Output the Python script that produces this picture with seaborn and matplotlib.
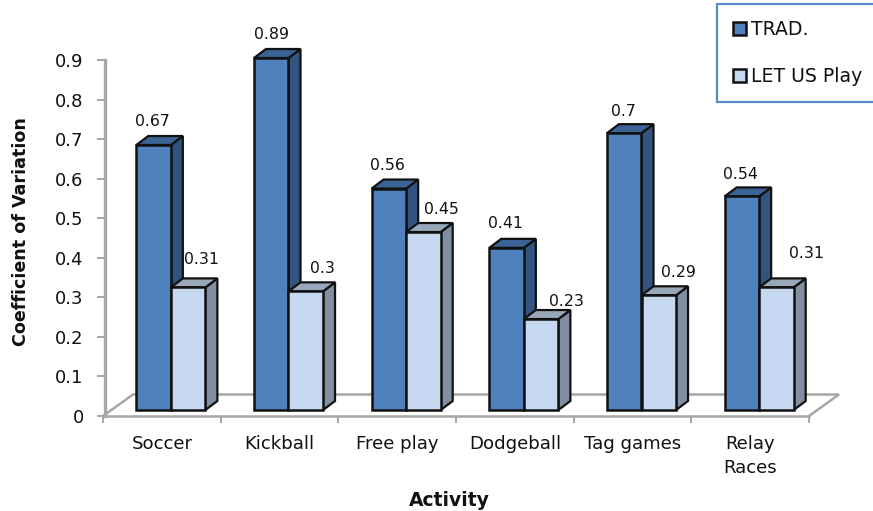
import matplotlib
matplotlib.use("Agg")
import matplotlib.pyplot as plt
from matplotlib.patches import Polygon
import pandas as pd
import seaborn as sns

# ---- data ----
activities = ["Soccer", "Kickball", "Free play", "Dodgeball", "Tag games", "Relay\nRaces"]
trad = [0.67, 0.89, 0.56, 0.41, 0.70, 0.54]
let_us_play = [0.31, 0.30, 0.45, 0.23, 0.29, 0.31]
y_ticks = [0, 0.1, 0.2, 0.3, 0.4, 0.5, 0.6, 0.7, 0.8, 0.9]
y_tick_labels = ["0", "0.1", "0.2", "0.3", "0.4", "0.5", "0.6", "0.7", "0.8", "0.9"]

# ---- style / layout ----
W, H = 873, 511
AX_L, AX_R, AX_B, AX_T = 103, 809, 416, 1
PX_X = (AX_R - AX_L) / 6.0          # px per category
PX_Y = 395.5                        # px per unit value
FONT = ["DejaVu Sans"]
GRAY = "#A6A6A6"
EDGE = "#111111"
TRAD_C = dict(front="#4F81BD", side="#335480", top="#3B6396")
PLAY_C = dict(front="#C6D9F1", side="#808FA2", top="#98A7BA")
DEPTH_X, DEPTH_Y = 12 / PX_X, 9 / PX_Y
FLOOR_X, FLOOR_Y = 30 / PX_X, 21.5 / PX_Y
SHIFT = 9 / PX_X
BASE = 6 / PX_Y
# label offsets from the top centre of each front face, in pixels
trad_off = [(-1, 24), (0, 24), (-1, 23), (-1, 24), (-1, 22), (-1, 22)]
play_off = [(13, 28), (17, 23), (18, 23), (25, 18), (20, 23), (30, 34)]

sns.set_theme(style="white")
plt.rcParams["font.family"] = FONT

fig = plt.figure(figsize=(W / 100, H / 100), dpi=100)
ax = fig.add_axes([AX_L / W, 1 - AX_B / H, (AX_R - AX_L) / W, (AX_B - AX_T) / H])

df = pd.DataFrame({
    "Activity": activities * 2,
    "Series": ["TRAD."] * 6 + ["LET US Play"] * 6,
    "Value": trad + let_us_play,
})
sns.barplot(data=df, x="Activity", y="Value", hue="Series",
            palette=[TRAD_C["front"], PLAY_C["front"]], saturation=1,
            width=0.587, gap=0, edgecolor=EDGE, linewidth=1.8,
            errorbar=None, ax=ax, zorder=3)

ax.set_xlim(-0.5, 5.5)
ax.set_ylim(0, (AX_B - AX_T) / PX_Y)

# floor of the 3-D plot
ax.plot([-0.5, -0.5 + FLOOR_X, 5.5 + FLOOR_X, 5.5], [0, FLOOR_Y, FLOOR_Y, 0],
        color=GRAY, lw=1.8, clip_on=False, zorder=1, solid_joinstyle="miter")

# 3-D faces built from the seaborn bars
n = len(activities)
bars = [b for b in ax.patches if b.get_height() > 0][:2 * n]
for i, bar in enumerate(bars):
    cols = TRAD_C if i < n else PLAY_C
    bar.set_x(bar.get_x() + SHIFT)
    bar.set_y(BASE)
    x0, x1 = bar.get_x(), bar.get_x() + bar.get_width()
    y0, y1 = bar.get_y(), bar.get_y() + bar.get_height()
    z = 2 if i < n else 2.5
    bar.set_zorder(z + 0.2)
    ax.add_patch(Polygon([(x1, y0), (x1 + DEPTH_X, y0 + DEPTH_Y), (x1 + DEPTH_X, y1 + DEPTH_Y), (x1, y1)],
                         closed=True, facecolor=cols["side"], edgecolor=EDGE, lw=1.6, zorder=z))
    ax.add_patch(Polygon([(x0, y1), (x0 + DEPTH_X, y1 + DEPTH_Y), (x1 + DEPTH_X, y1 + DEPTH_Y), (x1, y1)],
                         closed=True, facecolor=cols["top"], edgecolor=EDGE, lw=1.6, zorder=z))
    off = (trad_off if i < n else play_off)[i % n]
    val = (trad if i < n else let_us_play)[i % n]
    ax.annotate(f"{val:g}", xy=((x0 + x1) / 2, y1), xytext=off, textcoords="offset pixels",
                ha="center", va="center", fontsize=11.3, color="#111111", zorder=6)

# axes
sns.despine(ax=ax, top=True, right=True)
ax.spines["left"].set_color(GRAY)
ax.spines["left"].set_linewidth(2.4)
ax.spines["left"].set_position(("outward", -1.4))
ax.spines["left"].set_bounds(0, 0.9)
ax.spines["bottom"].set_color(GRAY)
ax.spines["bottom"].set_linewidth(1.8)
ax.set_yticks(y_ticks, y_tick_labels)
ax.tick_params(axis="y", length=5.8, width=1.4, color=GRAY, labelsize=13, labelcolor="#111111", pad=9.5, left=True)
ax.set_xticks(range(n), activities, linespacing=1.4)
ax.set_xticks([i - 0.5 for i in range(n + 1)], minor=True)
ax.tick_params(axis="x", which="major", length=0, labelsize=13.1, labelcolor="#111111", pad=14)
ax.tick_params(axis="x", which="minor", length=5, width=1.4, color=GRAY, bottom=True)

ax.set_xlabel("Activity", fontsize=13.5, fontweight="bold", color="#111111")
ax.set_ylabel("Coefficient of Variation", fontsize=12.6, fontweight="bold", color="#111111")
ax.xaxis.set_label_coords((449 - AX_L) / (AX_R - AX_L), -(501 - AX_B) / (AX_B - AX_T))
ax.yaxis.set_label_coords(-(AX_L - 21) / (AX_R - AX_L), (AX_B - 232) / (AX_B - AX_T))
ax.xaxis.label.set_verticalalignment("center")
ax.yaxis.label.set_verticalalignment("center")

# legend
handles, labels = ax.get_legend_handles_labels()
leg = ax.legend(handles, labels, loc="upper left",
                bbox_to_anchor=(717 / W, 1 - 4 / H), bbox_transform=fig.transFigure,
                fontsize=13.6, frameon=True, fancybox=False, framealpha=1,
                edgecolor="#5B8BC9", borderpad=0.85, labelspacing=1.5,
                handlelength=0.69, handleheight=0.69, handletextpad=0.26, borderaxespad=0)
leg.get_frame().set_linewidth(1.6)
for t in leg.get_texts():
    t.set_color("#111111")
leg.set_zorder(10)

fig.savefig("out.png", dpi=100, facecolor="white")
